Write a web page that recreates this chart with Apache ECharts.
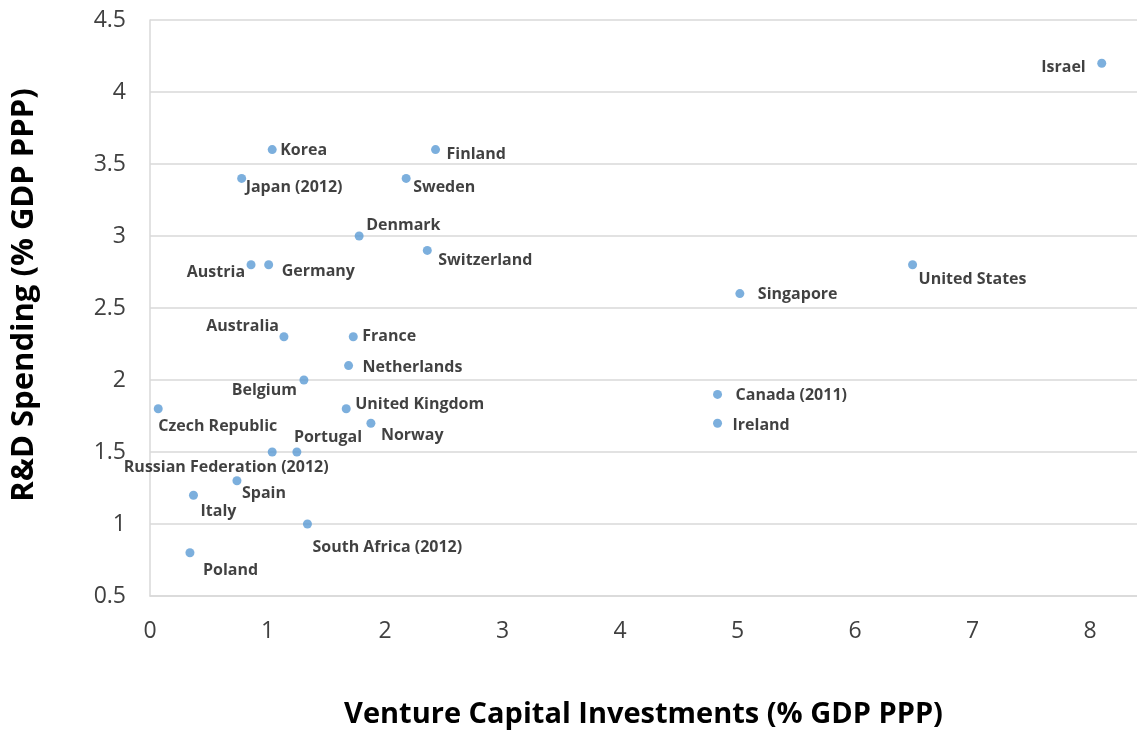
<!DOCTYPE html>
<html>
<head>
<meta charset="utf-8">
<script src="https://cdn.jsdelivr.net/npm/echarts@6/dist/echarts.min.js"></script>
<style>
  html, body { margin: 0; padding: 0; background: #fff; }
  #chart { width: 1137px; height: 734px; }
</style>
</head>
<body>
<div id="chart"></div>
<script>
// country names
const countries = [
  'Israel', 'Korea', 'Finland', 'Japan (2012)', 'Sweden', 'Denmark', 'Switzerland',
  'Austria', 'Germany', 'United States', 'Singapore', 'Australia', 'France',
  'Netherlands', 'Belgium', 'Canada (2011)', 'Czech Republic', 'United Kingdom',
  'Norway', 'Ireland', 'Russian Federation (2012)', 'Portugal', 'Spain', 'Italy',
  'South Africa (2012)', 'Poland'
]
// venture capital, % GDP PPP
const ventureCapital = [
  8.10, 1.04, 2.43, 0.78, 2.18, 1.78, 2.36,
  0.86, 1.01, 6.49, 5.02, 1.14, 1.73,
  1.69, 1.31, 4.83, 0.07, 1.67,
  1.88, 4.83, 1.04, 1.25, 0.74, 0.37,
  1.34, 0.34
]
// R&D spending, % GDP PPP
const rdSpending = [
  4.2, 3.6, 3.6, 3.4, 3.4, 3.0, 2.9,
  2.8, 2.8, 2.8, 2.6, 2.3, 2.3,
  2.1, 2.0, 1.9, 1.8, 1.8,
  1.7, 1.7, 1.5, 1.5, 1.3, 1.2,
  1.0, 0.8
]

// where each label sits relative to its point: [dx, dy, align]
const labelPlace = {
  'Israel': [-16, 4, 'right'],
  'Korea': [8, 1, 'left'],
  'Finland': [11, 5, 'left'],
  'Japan (2012)': [4, 9, 'left'],
  'Sweden': [7, 9, 'left'],
  'Denmark': [7, -11, 'left'],
  'Switzerland': [11, 10, 'left'],
  'Austria': [-6, 8, 'right'],
  'Germany': [13, 7, 'left'],
  'United States': [6, 15, 'left'],
  'Singapore': [18, 1, 'left'],
  'Australia': [-5, -10, 'right'],
  'France': [9, 0, 'left'],
  'Netherlands': [14, 2, 'left'],
  'Belgium': [-7, 10, 'right'],
  'Canada (2011)': [18, 1, 'left'],
  'Czech Republic': [0, 18, 'left'],
  'United Kingdom': [9, -4, 'left'],
  'Norway': [10, 12, 'left'],
  'Ireland': [15, 2, 'left'],
  'Russian Federation (2012)': [-46, 15, 'center'],
  'Portugal': [-3, -15, 'left'],
  'Spain': [5, 13, 'left'],
  'Italy': [7, 16, 'left'],
  'South Africa (2012)': [5, 23, 'left'],
  'Poland': [13, 18, 'left']
}

const points = countries.map((name, i) => {
  const p = labelPlace[name]
  return {
    name: name,
    value: [ventureCapital[i], rdSpending[i]],
    label: { offset: [p[0], p[1]], align: p[2] }
  }
})

const font = '"Open Sans", "Liberation Sans", sans-serif'
const gridColor = '#d9d9d9'

const chart = echarts.init(document.getElementById('chart'))
chart.setOption({
  animation: false,
  textStyle: { fontFamily: font },
  grid: { left: 150, top: 20, right: 0, bottom: 138, outerBoundsMode: 'none', containLabel: false },
  xAxis: {
    type: 'value',
    min: 0,
    max: 8.4,
    interval: 1,
    name: 'Venture Capital Investments (% GDP PPP)',
    nameLocation: 'middle',
    nameGap: 104,
    nameTextStyle: { fontSize: 29, fontWeight: 'bold', color: '#000', fontFamily: font },
    axisLine: { show: true, lineStyle: { color: gridColor, width: 1.5 } },
    axisTick: { show: false },
    splitLine: { show: false },
    axisLabel: {
      fontSize: 23, color: '#404040', margin: 24, showMaxLabel: false,
      formatter: v => (Number.isInteger(v) ? String(v) : '')
    }
  },
  yAxis: {
    type: 'value',
    min: 0.5,
    max: 4.5,
    interval: 0.5,
    name: 'R&D Spending (% GDP PPP)',
    nameLocation: 'middle',
    nameGap: 110,
    nameTextStyle: {
      fontSize: 31, fontWeight: 'bold', color: '#000', fontFamily: font,
      padding: [0, 0, 0, 26]
    },
    axisLine: { show: true, lineStyle: { color: gridColor, width: 1.5 } },
    axisTick: { show: false },
    splitLine: { show: true, lineStyle: { color: gridColor, width: 1.5 } },
    axisLabel: { fontSize: 23, color: '#404040', margin: 24 }
  },
  series: [{
    type: 'scatter',
    symbolSize: 9,
    itemStyle: { color: '#5b9bd5' },
    data: points,
    label: {
      show: true,
      position: 'inside',
      verticalAlign: 'middle',
      formatter: '{b}',
      fontSize: 16,
      fontWeight: 'bold',
      color: '#111',
      fontFamily: font
    }
  }]
})
</script>
</body>
</html>
